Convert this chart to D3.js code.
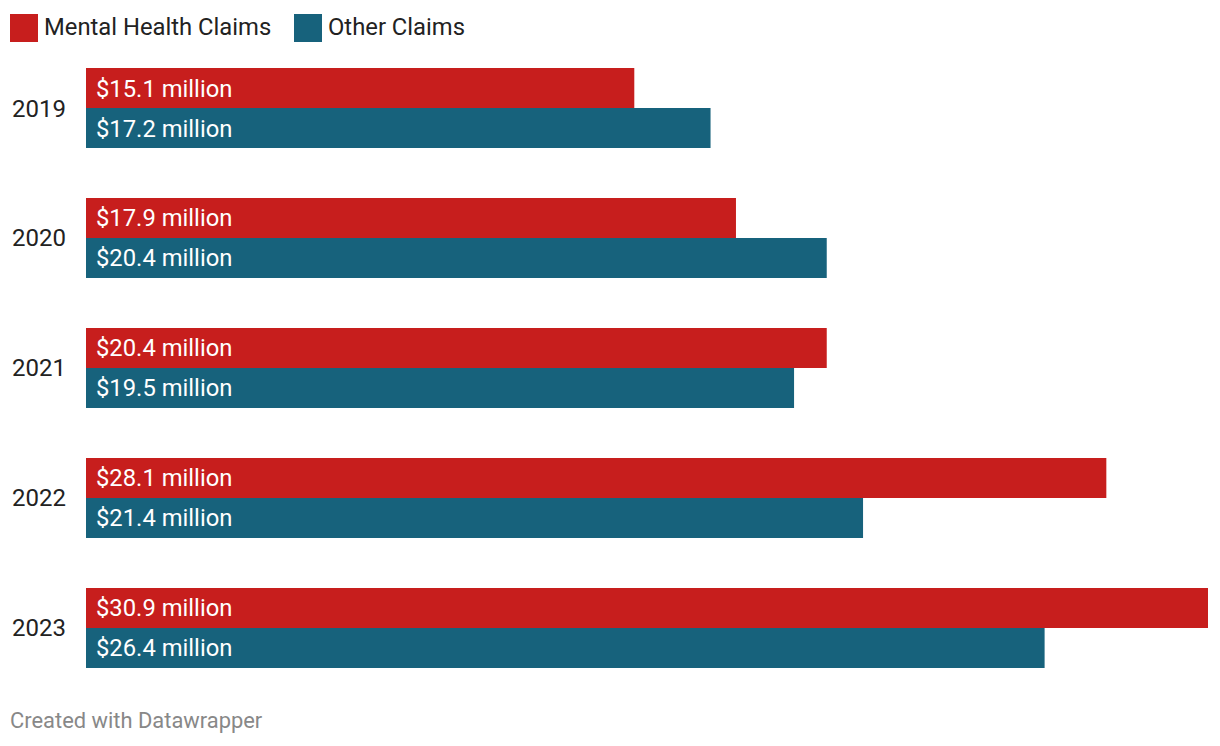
<!DOCTYPE html>
<html><head><meta charset="utf-8">
<script src="https://cdn.jsdelivr.net/npm/d3@7"></script>
<style>body{margin:0;background:#fff;font-family:Roboto,sans-serif;}</style>
</head><body>
<svg id="c" width="1220" height="746"></svg>
<script>
const years = ["2019","2020","2021","2022","2023"];
const seriesNames = ["Mental Health Claims","Other Claims"];
const mentalHealth = [15.1,17.9,20.4,28.1,30.9];
const otherClaims = [17.2,20.4,19.5,21.4,26.4];
const colors = ["#c71e1d","#17627c"];

const svg = d3.select("#c");
const x = d3.scaleLinear().domain([0,30.9]).range([86,1208]);
const y = d3.scaleBand().domain(years).range([68,668]).paddingInner(0.3846).paddingOuter(0);
const ySub = d3.scaleBand().domain([0,1]).range([0,y.bandwidth()]);

// legend
const leg = svg.append("g");
const legX = [10,294];
seriesNames.forEach((n,i)=>{
  leg.append("rect").attr("x",legX[i]).attr("y",14).attr("width",28).attr("height",28).attr("fill",colors[i]);
  leg.append("text").attr("x",legX[i]+34).attr("y",34.5).attr("font-size",23.8).attr("fill","#222").text(n);
});

const data = years.map((yr,i)=>({yr, vals:[mentalHealth[i],otherClaims[i]]}));
const g = svg.append("g").selectAll("g").data(data).join("g").attr("transform",d=>`translate(0,${y(d.yr)})`);
g.append("text").attr("x",12).attr("y",y.bandwidth()/2+8.5).attr("font-size",24).attr("fill","#222").text(d=>d.yr);
g.selectAll("rect").data(d=>d.vals).join("rect")
  .attr("x",x(0)).attr("y",(d,i)=>ySub(i)).attr("width",d=>x(d)-x(0)).attr("height",ySub.bandwidth())
  .attr("fill",(d,i)=>colors[i]);
g.selectAll("text.v").data(d=>d.vals).join("text").attr("class","v")
  .attr("x",x(0)+10).attr("y",(d,i)=>ySub(i)+ySub.bandwidth()/2+8.5)
  .attr("font-size",23.8).attr("fill","#fff").text(d=>`$${d.toFixed(1)} million`);

svg.append("text").attr("x",10).attr("y",727.5).attr("font-size",21.9).attr("fill","#888").text("Created with Datawrapper");
</script>
</body></html>
